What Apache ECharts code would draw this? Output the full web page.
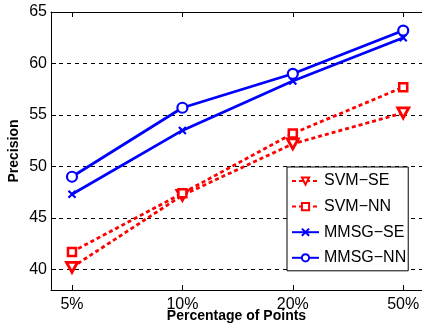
<!DOCTYPE html>
<html><head><meta charset="utf-8">
<script src="https://cdn.jsdelivr.net/npm/echarts@6/dist/echarts.min.js"></script>
<style>html,body{margin:0;padding:0;background:#fff}#c{width:422px;height:331px}</style>
</head><body><div id="c"></div>
<script>
var categories = ['5%', '10%', '20%', '50%'];
var seriesNames = ['SVM\u2212SE', 'SVM\u2212NN', 'MMSG\u2212SE', 'MMSG\u2212NN'];
var svmSE = [40.2, 47.2, 52.2, 55.2];
var svmNN = [41.7, 47.4, 53.2, 57.7];
var mmsgSE = [47.3, 53.5, 58.3, 62.5];
var mmsgNN = [49.0, 55.7, 59.0, 63.2];
var yTicks = [40, 45, 50, 55, 60, 65];

function pts(arr) { return arr.map(function (v, i) { return [i + 1, v]; }); }
var xPos = categories.map(function (c, i) { return i + 1; });
var font = 'Liberation Sans';

var chart = echarts.init(document.getElementById('c'));
var red = '#ff0000', blue = '#0000ff';
chart.setOption({
  animation: false,
  textStyle: { fontFamily: font },
  grid: { left: 51, right: 0, top: 12, bottom: 41, outerBoundsMode: 'none', containLabel: false },
  legend: {
    orient: 'vertical', left: 287, top: 167,
    backgroundColor: '#fff', borderColor: '#000', borderWidth: 1, borderRadius: 0,
    padding: [6, 2, 5, 4], itemWidth: 27, itemHeight: 9, itemGap: 9.6,
    textStyle: { fontFamily: font, fontSize: 16, color: '#000' },
    data: seriesNames
  },
  xAxis: [{
    type: 'value', min: 0.81, max: 4.17, position: 'bottom',
    name: 'Percentage of Points', nameLocation: 'middle', nameGap: 19, nameMoveOverlap: false,
    nameTextStyle: { fontFamily: font, fontSize: 14, fontWeight: 'bold', color: '#000' },
    axisLine: { show: true, lineStyle: { color: '#000', width: 1 } },
    axisTick: { show: true, inside: true, length: 5, customValues: xPos, lineStyle: { color: '#000' } },
    axisLabel: { customValues: xPos, fontSize: 16, color: '#000', margin: 7,
      formatter: function (v) { return categories[Math.round(v) - 1] || ''; } },
    splitLine: { show: false }
  }, {
    type: 'value', min: 0.81, max: 4.17, position: 'top',
    axisLine: { show: true, lineStyle: { color: '#000', width: 1 } },
    axisTick: { show: true, inside: true, length: 5, customValues: xPos, lineStyle: { color: '#000' } },
    axisLabel: { show: false },
    splitLine: { show: false }
  }],
  yAxis: {
    type: 'value', min: 38, max: 65, interval: 1,
    name: 'Precision', nameLocation: 'middle', nameGap: 30, nameMoveOverlap: false,
    nameTextStyle: { fontFamily: font, fontSize: 14, fontWeight: 'bold', color: '#000' },
    axisLine: { show: true, lineStyle: { color: '#000', width: 1 } },
    axisTick: { show: true, inside: true, length: 5, customValues: yTicks, lineStyle: { color: '#000' } },
    axisLabel: { customValues: yTicks, fontSize: 16, color: '#000', margin: 4,
      formatter: function (v) { return (v % 5 === 0) ? String(v) : ''; } },
    splitLine: { show: true, lineStyle: { color: '#000', type: [4, 4], width: 1 } }
  },
  series: [{
    name: seriesNames[0], type: 'line', data: pts(svmSE), z: 3,
    symbol: 'path://M0,0L10,0L5,9Z', symbolSize: [11, 10],
    lineStyle: { color: red, width: 2.8, type: [4, 3] },
    itemStyle: { color: '#fff', borderColor: red, borderWidth: 2.8 }
  }, {
    name: seriesNames[1], type: 'line', data: pts(svmNN), z: 3,
    symbol: 'rect', symbolSize: 8,
    lineStyle: { color: red, width: 2.8, type: [4, 3] },
    itemStyle: { color: '#fff', borderColor: red, borderWidth: 2.5 }
  }, {
    name: seriesNames[2], type: 'line', data: pts(mmsgSE), z: 3,
    symbol: 'path://M0,0L10,10M0,10L10,0', symbolSize: 7,
    lineStyle: { color: blue, width: 2.8 },
    itemStyle: { color: blue, borderColor: blue, borderWidth: 2.2 }
  }, {
    name: seriesNames[3], type: 'line', data: pts(mmsgNN), z: 3,
    symbol: 'circle', symbolSize: 10,
    lineStyle: { color: blue, width: 2.8 },
    itemStyle: { color: '#fff', borderColor: blue, borderWidth: 2.2 }
  }]
});
</script></body></html>
